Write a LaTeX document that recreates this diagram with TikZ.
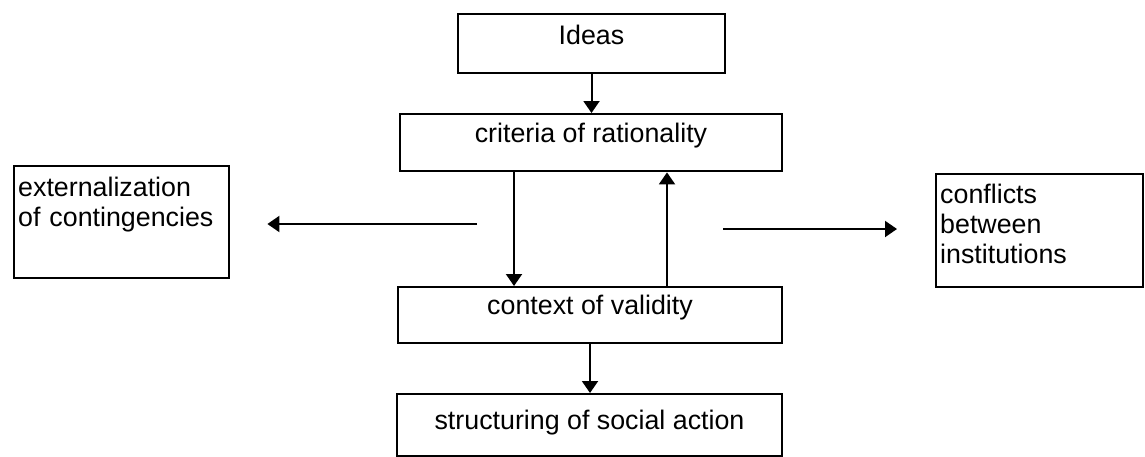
\documentclass[tikz,border=0pt]{standalone}
\usepackage{fontspec}
\setmainfont{Liberation Sans}
\usetikzlibrary{arrows.meta}
\tikzstyle{box}=[draw, rectangle, line width=1.2pt, inner xsep=2pt, inner ysep=0pt, font=\fontsize{13.4}{15}\selectfont]
\tikzstyle{midBox}=[box, anchor=north, align=center]
\tikzstyle{sideBox}=[box, anchor=north west, align=left]
\tikzstyle{edge}=[line width=1pt, -{Triangle[width=8pt, length=6pt]}]

\begin{document}
\begin{tikzpicture}[x=0.5pt, y=-0.5pt]
      \useasboundingbox (0,0) rectangle (1145,456);
      %%%%%%%%%%%% central column
      \node(ideas) [midBox, minimum width=133.5pt, text height=15pt, text depth=14.5pt] at (591.5,13){Ideas};
      \node(criteria) [midBox, minimum width=191pt, text height=14pt, text depth=14.5pt] at (591,113){criteria of rationality};
      \node(context) [midBox, minimum width=192pt, text height=13.5pt, text depth=14.5pt] at (590,286){context of validity};
      \node(structuring) [midBox, minimum width=192.5pt, text height=17.5pt, text depth=13.5pt] at (589.5,393){structuring of social action};
      %%%%%%%%%%%% side boxes
      \node(extern) [sideBox, text width=103.5pt, text height=15pt, text depth=41pt] at (13,165){externalization\\of contingencies};
      \node(conflicts) [sideBox, text width=99.5pt, text height=14.5pt, text depth=42pt] at (935,173){conflicts\\between\\institutions};
      %%%%%%%%%%%% arrows
      \draw[edge] (ideas.south) to (ideas.south |- criteria.north);
      \draw[edge] ([xshift=-38.5pt]criteria.south) to ([xshift=-38.5pt]criteria.south |- context.north);
      \draw[edge] ([xshift=38.5pt]context.north) to ([xshift=38.5pt]context.north |- criteria.south);
      \draw[edge] (context.south) to (context.south |- structuring.north);
      \coordinate (fromL) at (477,224);
      \coordinate (fromR) at (723,229);
      \draw[edge] (fromL) to ([xshift=18.5pt]extern.east |- fromL);
      \draw[edge] (fromR) to ([xshift=-19pt]conflicts.west |- fromR);
\end{tikzpicture}
\end{document}
